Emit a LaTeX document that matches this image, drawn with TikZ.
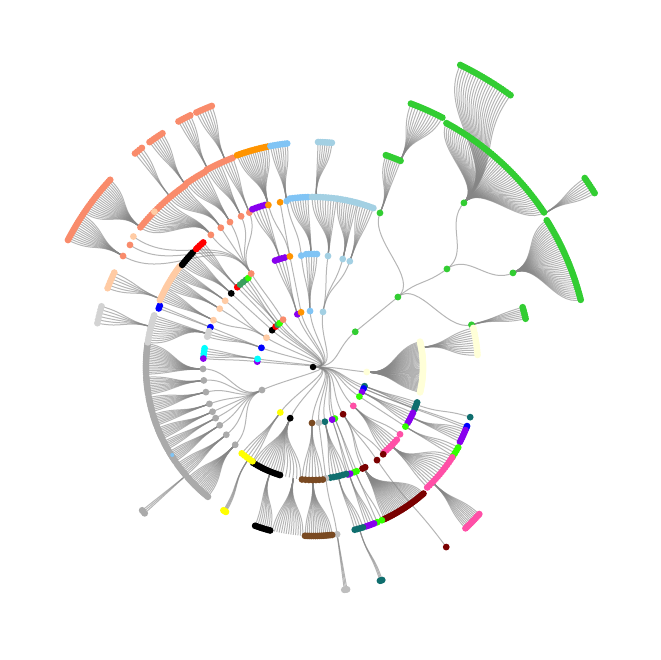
\documentclass[tikz,border=0pt]{standalone}
\definecolor{limeg}{HTML}{32CD32}
\definecolor{limec}{HTML}{33FF00}
\definecolor{seagc}{HTML}{3A9E5C}
\definecolor{ivoryc}{HTML}{FFFFD8}
\definecolor{tealc}{HTML}{0F6E6E}
\definecolor{bluec}{HTML}{0000FF}
\definecolor{purplec}{HTML}{8800EE}
\definecolor{pinkc}{HTML}{FF4FA7}
\definecolor{maroonc}{HTML}{7A0000}
\definecolor{lgreyc}{HTML}{BEBEBE}
\definecolor{lgrey2}{HTML}{D3D3D3}
\definecolor{brownc}{HTML}{7A4A22}
\definecolor{yellowc}{HTML}{FFFF00}
\definecolor{greyc}{HTML}{AAAAAA}
\definecolor{cyanc}{HTML}{00FFFF}
\definecolor{peachc}{HTML}{FFCBA4}
\definecolor{redc}{HTML}{FF0000}
\definecolor{salmonc}{HTML}{F98B6B}
\definecolor{orangec}{HTML}{FF9400}
\definecolor{skyc}{HTML}{80C4F5}
\definecolor{lbluec}{HTML}{A3D0E3}
\tikzset{edge/.style={draw=black!48, line width=1pt, opacity=0.6}}
\newif\ifdrawedges
% single radial link from (pa:pr) to (ca:cr)
\newcommand\lnk[4]{%
  \pgfmathsetmacro\rmid{(#2+#4)/2}%
  \draw[edge] (#1:#2) .. controls (#1:\rmid) and (#3:\rmid) .. (#3:#4);%
}
% fan: parent angle, parent radius, first angle, last angle, leaf radius, count, colour
\newcommand\fan[7]{%
  \foreach \k in {1,...,#6}{%
    \pgfmathsetmacro\aa{#3+(#4-#3)*(\k-1)/max(#6-1,1)}%
    \ifdrawedges\lnk{#1}{#2}{\aa}{#5}\else\path[fill=#7] (\aa:#5) circle (3.4);\fi
  }%
}
\newcommand\alltree{%
% ---------- level 1 ----------
\fan{0}{0}{39.8}{39.8}{55}{1}{limeg}
\fan{0}{0}{-5.3}{-5.3}{54}{1}{ivoryc}
\fan{0}{0}{-20.4}{-20.4}{55}{1}{tealc}
\fan{0}{0}{-23}{-23}{55}{1}{bluec}
\fan{0}{0}{-27}{-27}{55}{1}{purplec}
\fan{0}{0}{-32.5}{-32.5}{55}{1}{limec}
\fan{0}{0}{-44}{-44}{56}{1}{pinkc}
\fan{0}{0}{-57.5}{-57.5}{56}{1}{maroonc}
\fan{0}{0}{-67}{-67}{56}{1}{limec}
\fan{0}{0}{-70}{-70}{56}{1}{purplec}
\fan{0}{0}{-77.7}{-77.7}{56}{1}{tealc}
\fan{0}{0}{-84}{-84}{56}{1}{lgreyc}
\fan{0}{0}{-91}{-91}{56}{1}{brownc}
\fan{0}{0}{-114}{-114}{56}{1}{black}
\fan{0}{0}{-125.7}{-125.7}{56}{1}{yellowc}
\fan{0}{0}{-155.7}{-155.7}{56}{1}{greyc}
\fan{0}{0}{174.5}{174.5}{56}{1}{purplec}
\fan{0}{0}{171.7}{171.7}{56}{1}{cyanc}
\fan{0}{0}{159.6}{159.6}{55}{1}{bluec}
\fan{0}{0}{147.8}{147.8}{55}{1}{peachc}
\fan{0}{0}{138}{138}{55}{1}{black}
\fan{0}{0}{132.8}{132.8}{55}{1}{redc}
\fan{0}{0}{129.8}{129.8}{55}{1}{seagc}
\fan{0}{0}{127.3}{127.3}{55}{1}{limec}
\fan{0}{0}{122.3}{122.3}{56}{1}{salmonc}
\fan{0}{0}{106.5}{106.5}{55}{1}{purplec}
\fan{0}{0}{102.3}{102.3}{56}{1}{orangec}
\fan{0}{0}{93}{93}{56}{1}{skyc}
\fan{0}{0}{79.7}{79.7}{56}{1}{lbluec}
% ---------- level 2 ----------
\fan{39.8}{55}{39.5}{39.5}{110}{1}{limeg}
\fan{-5.3}{54}{13.3}{-13.3}{110}{45}{ivoryc}
\fan{-20.4}{55}{-18.8}{-22.5}{110}{4}{tealc}
\fan{-27}{55}{-24.7}{-30.5}{110}{5}{purplec}
\fan{-32.5}{55}{-32.8}{-32.8}{110}{1}{limec}
\fan{-44}{56}{-37.7}{-37.7}{110}{1}{pinkc}
\fan{-44}{56}{-41}{-50}{111}{7}{pinkc}
\fan{-57.5}{56}{-51.2}{-51.2}{112}{1}{maroonc}
\fan{-57.5}{56}{-55.5}{-55.5}{113}{1}{maroonc}
\fan{-57.5}{56}{-62.5}{-64}{113}{2}{maroonc}
\fan{-67}{56}{-67.3}{-68.7}{113}{2}{limec}
\fan{-70}{56}{-70.8}{-72}{113}{2}{purplec}
\fan{-77.7}{56}{-72.8}{-81}{112}{6}{tealc}
\fan{-84}{56}{-83.4}{-83.4}{112}{1}{lgreyc}
\fan{-91}{56}{-85}{-95.6}{113}{7}{brownc}
\fan{-114}{56}{-96.5}{-106}{113}{6}{none}
\fan{-114}{56}{-107}{-122}{113}{12}{black}
\fan{-125.7}{56}{-122.7}{-129.5}{112}{5}{yellowc}
\foreach \g in {-135,-142,-148,-152.3,-156,-160.4,-166.8,-173,-179}{\fan{-155.7}{56}{\g}{\g}{110}{1}{greyc}}
\fan{171.7}{56}{170.2}{174.5}{110}{4}{cyanc}
\fan{174.5}{56}{175.6}{175.6}{110}{1}{purplec}
\fan{159.6}{55}{158.8}{158.8}{110}{1}{bluec}
\fan{159.6}{55}{161}{164}{110}{3}{lgrey2}
\foreach \g in {154.8,148,143}{\fan{147.8}{55}{\g}{\g}{110}{1}{peachc}}
\fan{138}{55}{138}{138}{110}{1}{black}
\fan{132.8}{55}{133.5}{133.5}{110}{1}{redc}
\fan{129.8}{55}{131.5}{127.5}{110}{3}{seagc}
\fan{127.3}{55}{126}{126}{110}{1}{limec}
\fan{122.3}{56}{123.5}{123.5}{112}{1}{salmonc}
\fan{106.5}{55}{109.6}{104.4}{113}{4}{purplec}
\fan{102.3}{56}{101.8}{101.8}{113}{1}{orangec}
\fan{93}{56}{96}{96}{112}{1}{skyc}
\fan{93}{56}{93.5}{88}{113}{5}{skyc}
\foreach \g in {82.3,74.6,70.8}{\fan{79.7}{56}{\g}{\g}{112}{1}{lbluec}}
% ---------- level 3 ----------
\fan{39.5}{110}{66.5}{66.5}{168}{1}{limeg}
\fan{39.5}{110}{36.2}{36.2}{166}{1}{limeg}
\fan{39.5}{110}{14.9}{14.9}{164}{1}{limeg}
\fan{10}{110}{13.7}{4.2}{165}{12}{ivoryc}
\fan{-20}{110}{-17.7}{-17.7}{165}{1}{tealc}
\fan{-23}{55}{-21}{-21.8}{165}{2}{bluec}
\fan{-27}{110}{-22.5}{-27}{165}{6}{purplec}
\fan{-32.8}{110}{-29}{-32.4}{166}{4}{limec}
\fan{-45}{111}{-33}{-46.5}{166}{14}{pinkc}
\fan{-63.2}{113}{-48.9}{-64.8}{168}{28}{maroonc}
\fan{-68}{113}{-65.8}{-67.5}{168}{2}{limec}
\fan{-71.4}{113}{-68.7}{-71.5}{168}{4}{purplec}
\fan{-77}{112}{-72.7}{-75.6}{168}{4}{tealc}
\fan{-83.4}{112}{-81.8}{-81.8}{169}{1}{lgreyc}
\fan{-90}{113}{-83.5}{-92.7}{169}{14}{brownc}
\fan{-100}{113}{-93.5}{-104}{169}{14}{none}
\fan{-112}{113}{-104.7}{-110}{169}{8}{black}
\fan{-125}{112}{-121}{-122}{169}{4}{yellowc}
\fan{181}{110}{172}{182.5}{167}{18}{greyc}
\fan{187}{110}{183.5}{189.5}{167}{11}{greyc}
\fan{193.2}{110}{190.5}{195.5}{167}{9}{greyc}
\fan{199.6}{110}{196.5}{200.5}{167}{8}{greyc}
\fan{204}{110}{201.5}{205.5}{167}{8}{greyc}
\fan{207.7}{110}{206.5}{209.5}{167}{6}{greyc}
\fan{212}{110}{210.5}{214.5}{167}{8}{greyc}
\fan{218}{110}{215.5}{220.5}{167}{9}{greyc}
\fan{225}{110}{221.5}{231}{167}{17}{greyc}
\fan{162.5}{110}{162}{171.5}{167}{12}{lgrey2}
\fan{158.8}{110}{158.2}{159.2}{165}{2}{bluec}
\fan{154.8}{110}{156.4}{152}{167}{7}{peachc}
\fan{148}{110}{151.5}{147}{167}{7}{peachc}
\fan{143}{110}{146.5}{143}{167}{6}{peachc}
\fan{138}{110}{142}{136.5}{166}{8}{black}
\fan{133.5}{110}{134.7}{131.4}{166}{5}{redc}
\foreach \g in {127.7,123.5,119.8,115.5,112.4}{\fan{123.5}{112}{\g}{\g}{167}{1}{salmonc}}
\fan{107}{113}{111}{106.5}{169}{5}{purplec}
\fan{101.8}{113}{105.4}{105.4}{168}{1}{orangec}
\fan{101.8}{113}{101.3}{101.3}{168}{1}{orangec}
\fan{96}{112}{99}{99}{168}{1}{skyc}
\fan{91}{113}{97.8}{91.7}{170}{8}{skyc}
\fan{82.3}{112}{90.3}{82}{170}{10}{lbluec}
\fan{74.6}{112}{81.5}{75}{170}{9}{lbluec}
\fan{70.8}{112}{74.5}{69.2}{170}{7}{lbluec}
% ---------- level 4 ----------
\fan{66.5}{168}{71}{67}{224}{8}{limeg}
\fan{36.2}{166}{47.4}{47.4}{223}{1}{limeg}
\fan{36.2}{166}{25.2}{25.2}{221}{1}{limeg}
\fan{14.9}{164}{15.9}{12.8}{218}{7}{limeg}
\fan{-44}{166}{-41.5}{-46.6}{222}{12}{pinkc}
\fan{-55.5}{113}{-53.5}{-53.5}{224}{1}{maroonc}
\fan{-74}{168}{-72}{-72.6}{224}{3}{tealc}
\fan{-81.8}{169}{-81.3}{-82}{225}{3}{lgreyc}
\fan{127.7}{167}{141}{131}{222}{15}{salmonc}
\fan{123.5}{167}{130.3}{125.2}{222}{9}{salmonc}
\fan{119.8}{167}{124.5}{119}{223}{9}{salmonc}
\fan{115.5}{167}{118.3}{114.5}{224}{7}{salmonc}
\fan{112.4}{167}{113.8}{111}{224}{5}{salmonc}
\fan{123.5}{112}{146.3}{146.3}{220}{1}{salmonc}
\fan{123.5}{112}{149.7}{149.7}{220}{1}{salmonc}
\fan{123.5}{112}{144}{144}{222}{1}{peachc}
\fan{105.4}{168}{109.7}{101.6}{225}{15}{orangec}
\fan{99}{168}{100.9}{96.6}{225}{8}{skyc}
\fan{89}{170}{88.7}{85.2}{225}{7}{lbluec}
\fan{156}{167}{159}{154.6}{220}{6}{peachc}
\fan{166}{167}{168.5}{164}{220}{6}{lgrey2}
\fan{220.5}{167}{220}{221}{223}{3}{greyc}
% ---------- level 5 ----------
\fan{67}{224}{69.6}{62.6}{281}{13}{limeg}
\fan{47.4}{223}{61.3}{33.8}{278}{55}{limeg}
\fan{25.2}{221}{32.1}{14.1}{276}{40}{limeg}
\fan{141}{222}{137.3}{146}{276}{20}{salmonc}
\fan{149.7}{220}{146.5}{152.6}{276}{14}{salmonc}
\fan{130}{222}{129.8}{128}{278}{4}{salmonc}
\fan{125}{222}{126}{122.8}{278}{7}{salmonc}
\fan{118}{223}{118.7}{116}{280}{6}{salmonc}
\fan{113}{224}{114.6}{111.2}{280}{7}{salmonc}
% ---------- level 6 ----------
\fan{47.4}{223}{64}{54}{336}{22}{limeg}
\fan{33.5}{278}{34.8}{31.7}{331}{8}{limeg}
}
\begin{document}
\begin{tikzpicture}[x=1pt,y=1pt]
\useasboundingbox (-313,-293) rectangle (347,367);
\drawedgestrue
\alltree
\drawedgesfalse
\alltree
\path[fill=skyc] (212:166) circle (2);
\path[fill=peachc] (135.6:222) circle (3.4);
\node[circle, fill=black, inner sep=0pt, minimum size=6.5pt] (root) at (0,0) {};
\end{tikzpicture}
\end{document}
